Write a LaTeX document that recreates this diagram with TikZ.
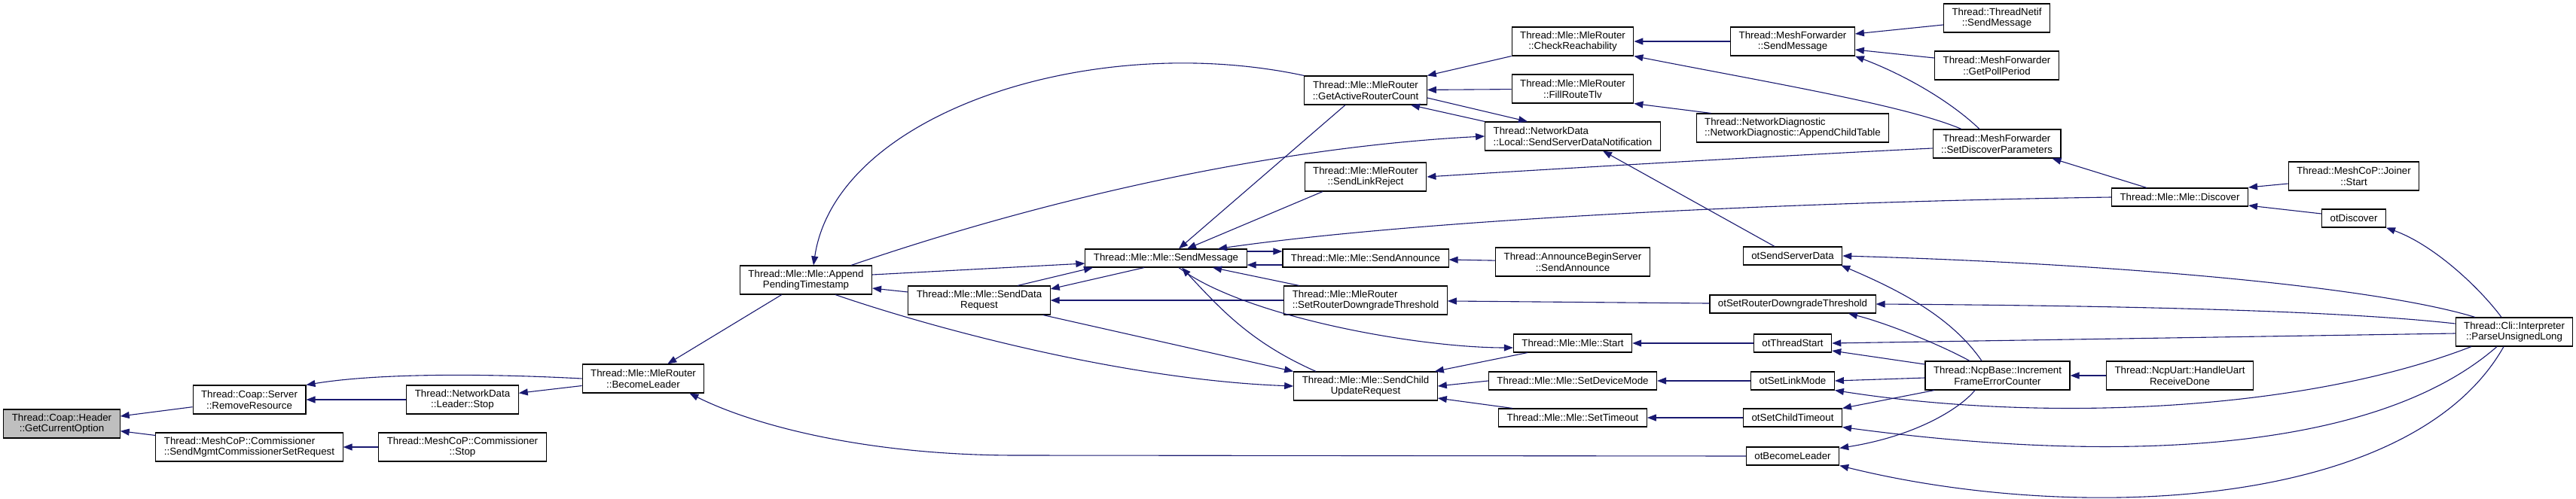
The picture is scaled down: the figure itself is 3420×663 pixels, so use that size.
\documentclass[tikz,border=0pt]{standalone}
\usepackage{fontspec}
\setmainfont{Liberation Sans}
\usetikzlibrary{arrows.meta}
\definecolor{edgeblue}{RGB}{25,25,112}
\definecolor{hilite}{RGB}{191,191,191}

\begin{document}
\begin{tikzpicture}[
    x=1pt, y=-1pt,
    fn/.style={rectangle, draw=black, line width=1.1pt, fill=white, inner xsep=11pt, inner ysep=0pt, minimum height=24pt, align=center, font=\fontsize{13.3}{14.5}\selectfont},
    two/.style={minimum height=38pt},
    calls/.style={{Triangle[length=12pt,width=9pt]}-, draw=edgeblue, line width=1.1pt}
]
    \useasboundingbox (0,0) rectangle (3420,663);

    % Nodes
    \node[fn, two, fill=hilite] (gco) at (82,563) {Thread::Coap::Header\\::GetCurrentOption};
    \node[fn, two] (rmres) at (331,531) {Thread::Coap::Server\\::RemoveResource};
    \node[fn, two, align=left] (mgmtset) at (331,594) {Thread::MeshCoP::Commissioner\\::SendMgmtCommissionerSetRequest};
    \node[fn, two] (ldrstop) at (614,531) {Thread::NetworkData\\::Leader::Stop};
    \node[fn, two] (comstop) at (614,594) {Thread::MeshCoP::Commissioner\\::Stop};
    \node[fn, two] (becleader) at (854,503) {Thread::Mle::MleRouter\\::BecomeLeader};
    \node[fn, two] (appendts) at (1070,372) {Thread::Mle::Mle::Append\\PendingTimestamp};
    \node[fn, two] (senddata) at (1300,399) {Thread::Mle::Mle::SendData\\Request};
    \node[fn] (mlesend) at (1548,343) {Thread::Mle::Mle::SendMessage};

    \node[fn, two] (garc) at (1813,120) {Thread::Mle::MleRouter\\::GetActiveRouterCount};
    \node[fn, two] (linkrej) at (1813,235) {Thread::Mle::MleRouter\\::SendLinkReject};
    \node[fn] (mleannounce) at (1813,343) {Thread::Mle::Mle::SendAnnounce};
    \node[fn, two, align=left] (downgrade) at (1813,399) {Thread::Mle::MleRouter\\::SetRouterDowngradeThreshold};
    \node[fn, two] (sendchild) at (1813,513) {Thread::Mle::Mle::SendChild\\UpdateRequest};

    \node[fn, two] (checkreach) at (2088,55) {Thread::Mle::MleRouter\\::CheckReachability};
    \node[fn, two] (fillroute) at (2088,118) {Thread::Mle::MleRouter\\::FillRouteTlv};
    \node[fn, two, align=left] (ssdn) at (2088,181) {Thread::NetworkData\\::Local::SendServerDataNotification};
    \node[fn, two] (abssend) at (2088,348) {Thread::AnnounceBeginServer\\::SendAnnounce};
    \node[fn] (mlestart) at (2088,456) {Thread::Mle::Mle::Start};
    \node[fn] (devmode) at (2088,506) {Thread::Mle::Mle::SetDeviceMode};
    \node[fn] (settimeout) at (2088,555) {Thread::Mle::Mle::SetTimeout};

    \node[fn, two] (mfsend) at (2380,55) {Thread::MeshForwarder\\::SendMessage};
    \node[fn, two, align=left] (netdiag) at (2380,170) {Thread::NetworkDiagnostic\\::NetworkDiagnostic::AppendChildTable};
    \node[fn] (otserver) at (2380,340) {otSendServerData};
    \node[fn] (otdowngrade) at (2380,404) {otSetRouterDowngradeThreshold};
    \node[fn] (otstart) at (2380,456) {otThreadStart};
    \node[fn] (otlinkmode) at (2380,506) {otSetLinkMode};
    \node[fn] (ottimeout) at (2380,555) {otSetChildTimeout};
    \node[fn] (otleader) at (2380,606) {otBecomeLeader};

    \node[fn, two] (netifsend) at (2651,24) {Thread::ThreadNetif\\::SendMessage};
    \node[fn, two] (pollperiod) at (2651,87) {Thread::MeshForwarder\\::GetPollPeriod};
    \node[fn, two] (discparams) at (2651,191) {Thread::MeshForwarder\\::SetDiscoverParameters};
    \node[fn, two] (ifec) at (2652,499) {Thread::NcpBase::Increment\\FrameErrorCounter};

    \node[fn] (discover) at (2894,262) {Thread::Mle::Mle::Discover};
    \node[fn, two] (uartdone) at (2894,499) {Thread::NcpUart::HandleUart\\ReceiveDone};
    \node[fn, two] (joinstart) at (3125,234) {Thread::MeshCoP::Joiner\\::Start};
    \node[fn] (otdiscover) at (3125,290) {otDiscover};
    \node[fn, two] (parseul) at (3338,441) {Thread::Cli::Interpreter\\::ParseUnsignedLong};

    % Arrows
    \draw[calls] (gco) -- (rmres);
    \draw[calls] (gco) -- (mgmtset);
    \draw[calls] (rmres) -- (ldrstop);
    \draw[calls] (rmres.north east) .. controls (500,496) and (640,496) .. (becleader.west);
    \draw[calls] (ldrstop) -- (becleader);
    \draw[calls] (mgmtset) -- (comstop);
    \draw[calls] (becleader) -- (appendts);
    \draw[calls] ([xshift=-20pt]becleader.south east) .. controls (1000,565) and (1150,605) .. (1350,605) -- (otleader.west);

    \draw[calls] ([xshift=10pt]appendts.north) .. controls (1110,150) and (1450,40) .. (garc.north west);
    \draw[calls] (ssdn.west) .. controls (1700,195) and (1400,260) .. ([xshift=-28pt]appendts.north east);
    \draw[calls] ([yshift=-7pt]mlesend.west) -- ([yshift=7pt]appendts.east);
    \draw[calls] ([yshift=-11pt]appendts.east) -- ([yshift=11pt]senddata.west);
    \draw[calls] (sendchild.west) .. controls (1500,505) and (1250,440) .. ([xshift=39pt]appendts.south);

    \draw[calls] ([xshift=-97pt]mlesend.south) -- ([xshift=51pt]senddata.north);
    \draw[calls] ([yshift=15pt]senddata.east) -- ([xshift=-29pt]mlesend.south);
    \draw[calls] (senddata) -- (downgrade);
    \draw[calls] (sendchild.north west) -- ([xshift=-10pt]senddata.south east);

    \draw[calls] ([xshift=17pt]mlesend.north) -- ([xshift=-27pt]garc.south);
    \draw[calls] ([xshift=28pt]mlesend.north) -- ([xshift=-57pt]linkrej.south);
    \draw[calls] ([xshift=69pt]mlesend.north) .. controls (1900,290) and (2400,268) .. (discover.west);
    \draw[calls] ([yshift=9pt]mleannounce.west) -- ([yshift=9pt]mlesend.east);
    \draw[calls] ([yshift=-9pt]mlesend.east) -- ([yshift=-9pt]mleannounce.west);
    \draw[calls] ([xshift=62pt]mlesend.south) -- ([xshift=-88pt]downgrade.north);
    \draw[calls] ([yshift=-6pt]mlestart.west) .. controls (1880,462) and (1650,420) .. ([xshift=17pt]mlesend.south);
    \draw[calls] ([xshift=21pt]mlesend.south) .. controls (1620,410) and (1660,455) .. ([xshift=-66pt]sendchild.north);

    \draw[calls] ([xshift=-4pt]sendchild.north east) -- ([xshift=-60pt]mlestart.south);
    \draw[calls] (sendchild.east) -- (devmode.west);
    \draw[calls] ([yshift=-16pt]sendchild.east) -- ([xshift=-80pt]settimeout.north);
    \draw[calls] (mlestart) -- (otstart);
    \draw[calls] (devmode) -- (otlinkmode);
    \draw[calls] (settimeout) -- (ottimeout);
    \draw[calls] (downgrade) -- (otdowngrade);
    \draw[calls] (mleannounce) -- (abssend);

    \draw[calls] (garc.north east) -- (checkreach.south west);
    \draw[calls] (garc) -- (fillroute);
    \draw[calls] ([xshift=60pt]garc.south) -- (ssdn.north west);
    \draw[calls] ([xshift=-60pt]ssdn.north) -- ([yshift=-10pt]garc.east);
    \draw[calls] ([xshift=40pt]ssdn.south) -- ([xshift=-24pt]otserver.north);
    \draw[calls] (linkrej.east) .. controls (2100,222) and (2400,205) .. ([yshift=-6pt]discparams.west);

    \draw[calls] (checkreach) -- (mfsend);
    \draw[calls] (checkreach.south east) .. controls (2350,110) and (2530,140) .. ([xshift=-47pt]discparams.north);
    \draw[calls] (fillroute.south east) -- ([xshift=20pt]netdiag.north west);
    \draw[calls] ([yshift=10pt]mfsend.east) -- ([yshift=-9pt]netifsend.west);
    \draw[calls] ([yshift=-11pt]mfsend.east) -- ([yshift=10pt]pollperiod.west);
    \draw[calls] (mfsend.south east) .. controls (2530,100) and (2590,135) .. ([xshift=-23pt]discparams.north);
    \draw[calls] ([xshift=-12pt]discparams.south east) -- ([xshift=-44pt]discover.north);
    \draw[calls] ([yshift=13pt]discover.east) -- ([yshift=-10pt]joinstart.west);
    \draw[calls] ([yshift=-11pt]discover.east) -- ([yshift=6pt]otdiscover.west);
    \draw[calls] (otdiscover.south east) .. controls (3230,325) and (3290,380) .. ([xshift=-17pt]parseul.north);

    \draw[calls] (otserver.east) .. controls (2800,350) and (3150,380) .. ([xshift=-52pt]parseul.north);
    \draw[calls] ([xshift=-2pt]otserver.south east) .. controls (2520,385) and (2590,420) .. ([xshift=-21pt]ifec.north);
    \draw[calls] (otdowngrade.east) .. controls (2800,406) and (3100,412) .. ([yshift=11pt]parseul.west);
    \draw[calls] ([xshift=74pt]otdowngrade.south) .. controls (2500,428) and (2570,455) .. ([xshift=-37pt]ifec.north);
    \draw[calls] (otstart.east) -- ([yshift=-2pt]parseul.west);
    \draw[calls] ([yshift=-10pt]otstart.east) -- ([yshift=15pt]ifec.west);
    \draw[calls] (otlinkmode.east) -- ([yshift=-3pt]ifec.west);
    \draw[calls] (otlinkmode.south east) .. controls (2700,560) and (3050,550) .. ([xshift=-57pt]parseul.south);
    \draw[calls] (ottimeout.north east) -- ([xshift=-84pt]ifec.south);
    \draw[calls] (ottimeout.south east) .. controls (2800,615) and (3150,605) .. ([xshift=-23pt]parseul.south);
    \draw[calls] ([yshift=-2pt]otleader.north east) .. controls (2540,580) and (2600,545) .. ([xshift=-30pt]ifec.south);
    \draw[calls] (otleader.south east) .. controls (2750,695) and (3200,680) .. ([xshift=-14pt]parseul.south);
    \draw[calls] (ifec) -- (uartdone);
\end{tikzpicture}
\end{document}
